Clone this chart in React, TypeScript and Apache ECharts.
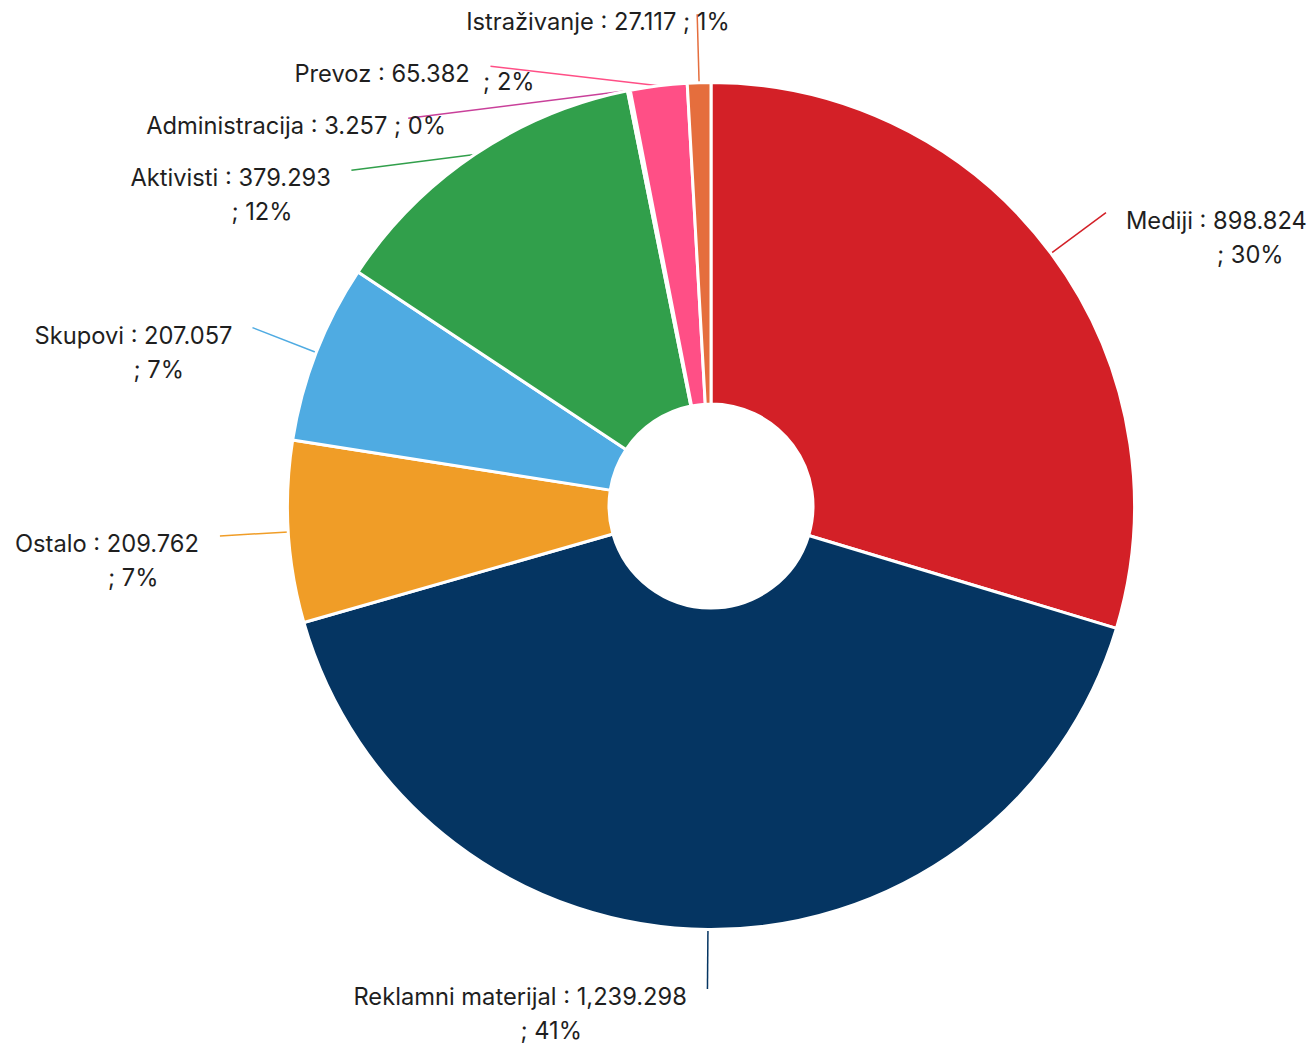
import { useEffect, useRef } from 'react';
import * as echarts from 'echarts';

// Budget breakdown by cost category
const categories = [
  'Mediji',
  'Reklamni materijal',
  'Ostalo',
  'Skupovi',
  'Aktivisti',
  'Administracija',
  'Prevoz',
  'Istraživanje',
];
const amounts = [898.824, 1239.298, 209.762, 207.057, 379.293, 3.257, 65.382, 27.117];
const sliceColors = [
  '#d32027',
  '#053562',
  '#f09d27',
  '#4fabe2',
  '#319f4b',
  '#c9409a',
  '#ff4f86',
  '#e56e3d',
];

// Labels whose share is written on the same line as the amount
const inlineShare = new Set(['Administracija', 'Istraživanje']);
// Label whose share trails the amount, slightly lowered
const trailingShare = new Set(['Prevoz']);

const WIDTH = 1312;
const HEIGHT = 1045;
const CENTER = [711, 506];
const INNER_R = 102;
const OUTER_R = 423.5;
const LINE_LEN = 68.5; // radial leader length
const TEXT_GAP = 20; // leader end to text
const SLOT = 52; // minimal vertical distance between stacked labels
const BOTTOM_ROOM = 56; // space a label needs below its leader end

const FONT_SIZE = 23.7;
const FONT_FAMILY = 'Inter';
const TEXT_COLOR = '#1f1f1f';

const formatAmount = (v: number) =>
  v.toLocaleString('en-US', { minimumFractionDigits: 3, maximumFractionDigits: 3 });

const headText = (name: string, value: number) => `${name} : ${formatAmount(value)}`;

let measureCtx: CanvasRenderingContext2D | null = null;
const measure = (s: string) => {
  if (!measureCtx) measureCtx = document.createElement('canvas').getContext('2d');
  measureCtx!.font = `${FONT_SIZE}px ${FONT_FAMILY}`;
  return measureCtx!.measureText(s).width;
};

// Leader end points: radial by default, stacked downwards per side when labels crowd,
// and slid along the circle of radius OUTER_R + LINE_LEN.
function leaderEnds() {
  const total = amounts.reduce((a, b) => a + b, 0);
  const R = OUTER_R + LINE_LEN;
  const [cx, cy] = CENTER;
  let acc = 0;
  const pts = amounts.map((v, i) => {
    const mid = ((acc + v / 2) / total) * Math.PI * 2;
    acc += v;
    const s = Math.sin(mid);
    const c = Math.cos(mid);
    return {
      i,
      side: s < 0 ? -1 : 1,
      x: cx + R * s,
      y: cy - R * c,
      sx: cx + OUTER_R * s,
      sy: cy - OUTER_R * c,
    };
  });
  [-1, 1].forEach((side) => {
    const list = pts.filter((p) => p.side === side).sort((a, b) => a.y - b.y);
    let prev = -Infinity;
    list.forEach((p) => {
      const y = Math.max(p.y, prev + SLOT);
      if (y !== p.y) {
        const dy = y - cy;
        p.x = cx + side * Math.sqrt(Math.max(0, R * R - dy * dy));
        p.y = y;
      }
      prev = p.y;
    });
    list.forEach((p) => {
      if (p.y > HEIGHT - BOTTOM_ROOM) p.y = HEIGHT - BOTTOM_ROOM;
    });
  });
  return pts;
}

function buildData() {
  return categories.map((name, i) => {
    const w = Math.ceil(measure(headText(name, amounts[i])));
    const base = {
      fontFamily: FONT_FAMILY,
      fontSize: FONT_SIZE,
      color: TEXT_COLOR,
      align: 'left',
      verticalAlign: 'middle',
    };
    return {
      name,
      value: amounts[i],
      itemStyle: { color: sliceColors[i] },
      label: {
        width: w,
        rich: {
          head: { ...base, lineHeight: 15 },
          tail: { ...base, lineHeight: 53, padding: [0, 0, 0, Math.round(w / 2)] },
          side: { ...base, lineHeight: 15 },
          drop: { ...base, lineHeight: 15, padding: [16, 0, 0, 0] },
        },
      },
    };
  });
}

export default function App() {
  const ref = useRef<HTMLDivElement>(null);

  useEffect(() => {
    if (!ref.current) return;
    const chart = echarts.init(ref.current, null, { renderer: 'svg' });
    const ends = leaderEnds();
    chart.setOption({
      animation: false,
      backgroundColor: '#ffffff',
      series: [
        {
          type: 'pie',
          center: CENTER,
          radius: [INNER_R, OUTER_R],
          startAngle: 90,
          clockwise: true,
          percentPrecision: 0,
          avoidLabelOverlap: false,
          itemStyle: { borderColor: '#ffffff', borderWidth: 3 },
          emphasis: { disabled: true },
          label: {
            show: true,
            position: 'outside',
            alignTo: 'none',
            distanceToLabelLine: TEXT_GAP,
            overflow: 'none',
            fontFamily: FONT_FAMILY,
            fontSize: FONT_SIZE,
            color: TEXT_COLOR,
            formatter: (p: any) => {
              const head = headText(p.name, p.value);
              const share = `; ${p.percent}%`;
              if (inlineShare.has(p.name)) return `{head|${head}}{side| ${share}}`;
              if (trailingShare.has(p.name)) return `{head|${head}}{drop|  ${share}}`;
              return `{head|${head}}\n{tail|${share}}`;
            },
          },
          labelLine: {
            show: true,
            length: LINE_LEN,
            length2: 0,
            smooth: false,
            lineStyle: { width: 1.5 },
          },
          labelLayout: (params: any) => {
            const e = ends[params.dataIndex];
            const start =
              params.labelLinePoints && params.labelLinePoints[0]
                ? params.labelLinePoints[0]
                : [e.sx, e.sy];
            return {
              x: e.x + e.side * TEXT_GAP,
              y: e.y,
              align: e.side < 0 ? 'right' : 'left',
              verticalAlign: 'top',
              labelLinePoints: [start, [e.x, e.y]],
            };
          },
          data: buildData(),
        },
      ],
    });
    return () => chart.dispose();
  }, []);

  return (
    <div
      ref={ref}
      style={{ position: 'absolute', left: 0, top: 0, width: WIDTH, height: HEIGHT, background: '#fff' }}
    />
  );
}
